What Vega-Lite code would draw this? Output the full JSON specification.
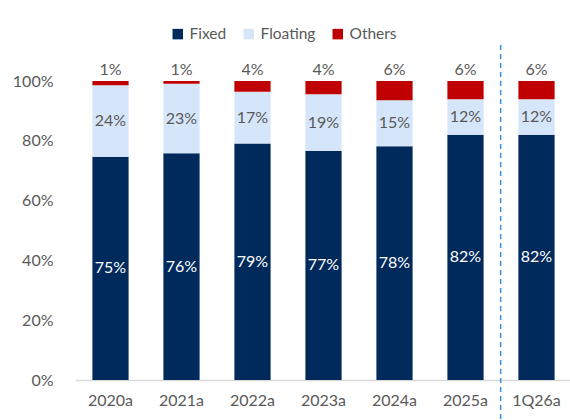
{
  "$schema": "https://vega.github.io/schema/vega-lite/v6.json",
  "width": 497,
  "height": 299,
  "autosize": "none",
  "padding": {"left": 75, "top": 81, "right": 0, "bottom": 40},
  "background": "white",
  "config": {
    "view": {"stroke": null},
    "font": "Lato, sans-serif",
    "axis": {"labelFont": "Lato, sans-serif", "labelFontSize": 16, "labelColor": "#595959"},
    "legend": {"labelFont": "Lato, sans-serif"}
  },
  "datasets": {
    "shares": [
      {"year": "2020a", "series": "Fixed", "order": 1, "value": 74.7},
      {"year": "2020a", "series": "Floating", "order": 2, "value": 23.9},
      {"year": "2020a", "series": "Others", "order": 3, "value": 1.4},
      {"year": "2021a", "series": "Fixed", "order": 1, "value": 75.8},
      {"year": "2021a", "series": "Floating", "order": 2, "value": 23.3},
      {"year": "2021a", "series": "Others", "order": 3, "value": 0.9},
      {"year": "2022a", "series": "Fixed", "order": 1, "value": 79.1},
      {"year": "2022a", "series": "Floating", "order": 2, "value": 17.3},
      {"year": "2022a", "series": "Others", "order": 3, "value": 3.6},
      {"year": "2023a", "series": "Fixed", "order": 1, "value": 76.6},
      {"year": "2023a", "series": "Floating", "order": 2, "value": 19.0},
      {"year": "2023a", "series": "Others", "order": 3, "value": 4.4},
      {"year": "2024a", "series": "Fixed", "order": 1, "value": 78.2},
      {"year": "2024a", "series": "Floating", "order": 2, "value": 15.4},
      {"year": "2024a", "series": "Others", "order": 3, "value": 6.4},
      {"year": "2025a", "series": "Fixed", "order": 1, "value": 82.0},
      {"year": "2025a", "series": "Floating", "order": 2, "value": 11.9},
      {"year": "2025a", "series": "Others", "order": 3, "value": 6.1},
      {"year": "1Q26a", "series": "Fixed", "order": 1, "value": 82.0},
      {"year": "1Q26a", "series": "Floating", "order": 2, "value": 11.9},
      {"year": "1Q26a", "series": "Others", "order": 3, "value": 6.1}
    ],
    "divider": [{"year": "1Q26a"}]
  },
  "layer": [
    {
      "data": {"name": "shares"},
      "transform": [
        {"stack": "value", "groupby": ["year"], "sort": [{"field": "order"}], "as": ["v0", "v1"]},
        {"calculate": "format(datum.value, '.0f') + '%'", "as": "label"},
        {"calculate": "(datum.v0 + datum.v1) / 2", "as": "mid"}
      ],
      "layer": [
        {
          "mark": {"type": "bar"},
          "encoding": {
            "x": {
              "field": "year", "type": "nominal", "sort": null,
              "scale": {"paddingInner": 0.49, "paddingOuter": 0.245},
              "axis": {"title": null, "labelAngle": 0, "ticks": false, "domainColor": "#d9d9d9", "domainWidth": 1.5, "labelPadding": 12}
            },
            "y": {
              "field": "v0", "type": "quantitative",
              "scale": {"domain": [0, 100]},
              "axis": {"title": null, "values": [0, 20, 40, 60, 80, 100], "labelExpr": "datum.value + '%'", "grid": false, "domain": false, "ticks": false, "labelPadding": 22}
            },
            "y2": {"field": "v1"},
            "color": {
              "field": "series", "type": "nominal",
              "scale": {"domain": ["Fixed", "Floating", "Others"], "range": ["#002A5C", "#D6E6FA", "#C00000"]},
              "legend": {
                "title": null, "orient": "none", "direction": "horizontal",
                "legendX": 95, "legendY": -55,
                "symbolType": "square", "symbolSize": 110, "symbolStrokeWidth": 0,
                "labelFontSize": 15.5, "labelColor": "#595959", "columnPadding": 14, "labelOffset": 4
              }
            }
          }
        },
        {
          "transform": [{"filter": "datum.series !== 'Others'"}],
          "mark": {"type": "text", "fontSize": 16, "baseline": "middle"},
          "encoding": {
            "x": {"field": "year", "type": "nominal", "sort": null},
            "y": {"field": "mid", "type": "quantitative"},
            "text": {"field": "label"},
            "color": {"condition": {"test": "datum.series === 'Fixed'", "value": "white"}, "value": "#595959"}
          }
        },
        {
          "transform": [{"filter": "datum.series === 'Others'"}],
          "mark": {"type": "text", "fontSize": 16, "baseline": "bottom", "dy": -3, "color": "#595959"},
          "encoding": {
            "x": {"field": "year", "type": "nominal", "sort": null},
            "y": {"field": "v1", "type": "quantitative"},
            "text": {"field": "label"}
          }
        }
      ]
    },
    {
      "data": {"name": "divider"},
      "mark": {"type": "rule", "color": "#3A8EE6", "strokeWidth": 1.5, "strokeDash": [5, 4], "clip": false},
      "encoding": {
        "x": {"field": "year", "type": "nominal", "sort": null, "bandPosition": -0.49},
        "y": {"datum": 112},
        "y2": {"datum": -14}
      }
    }
  ]
}
